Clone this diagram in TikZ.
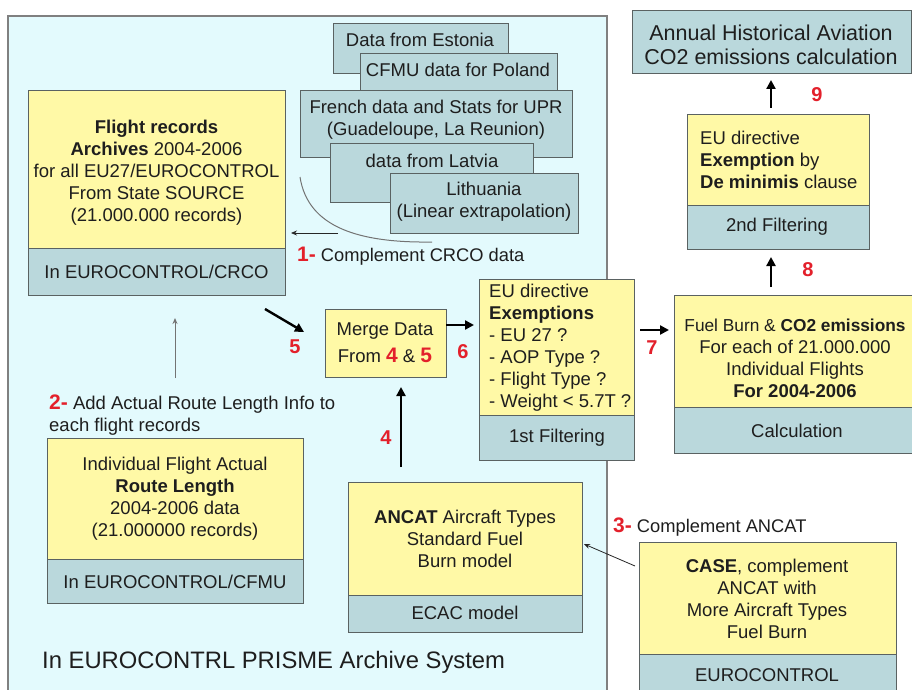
\documentclass[tikz,border=0pt]{standalone}
\usepackage{fontspec}
\setmainfont{Liberation Sans}
\usetikzlibrary{arrows.meta,calc}
\definecolor{panelc}{HTML}{E3FAFD}
\definecolor{yelc}{HTML}{FFF9A6}
\definecolor{bluc}{HTML}{BAD8DC}
\definecolor{bordc}{HTML}{5A6262}
\definecolor{redc}{HTML}{E3202B}
\definecolor{txtc}{HTML}{1E1E1E}
\newcommand{\rn}[1]{{\color{redc}\fontsize{21}{22}\selectfont\bfseries #1}}
\begin{document}
\begin{tikzpicture}[x=1pt,y=-1pt,
  box/.style={draw=bordc, line width=1pt, inner sep=0pt, anchor=north west},
  sz/.style 2 args={minimum width=#1pt, minimum height=#2pt},
  ybox/.style={box, fill=yelc},
  bbox/.style={box, fill=bluc},
  txt/.style={font=\fontsize{18.5}{22}\selectfont, align=center, text=txtc, inner sep=0pt},
  num/.style={font=\fontsize{20}{22}\selectfont\bfseries, text=redc, inner sep=0pt},
  bigarrow/.style={-{Triangle[length=9pt,width=9pt]}, line width=2.4pt, draw=black},
  thinarrow/.style={-{Stealth[length=6pt,width=5pt]}, line width=0.8pt, draw=black!85},
  grayarrow/.style={-{Stealth[length=6pt,width=5pt]}, line width=1pt, draw=black!55}
]
\clip (0,0) rectangle (912,690);
\fill[white] (0,0) rectangle (912,690);
% panel
\draw[fill=panelc, draw=black!50, line width=1.5pt] (8,16) rectangle (607,710);

% Flight records
\node[ybox, sz={257}{158}] (fr) at (28,90) {};
\node[bbox, sz={257}{47}] (frb) at (28,248) {};
\node[txt] (frt) at (156.5,173) {\textbf{Flight records}\\\textbf{Archives} 2004-2006\\for all EU27/EUROCONTROL\\From State SOURCE\\(21.000.000 records)};
\node[txt] (frbt) at (156.5,272) {In EUROCONTROL/CRCO};

% stacked data boxes
\node[bbox, sz={175}{50}] (est) at (333,23) {};
\node[txt] (estt) at (420,40) {Data from Estonia};
\node[bbox, sz={197}{37}] (cfmu) at (360,53) {};
\node[txt] (cfmut) at (458,70) {CFMU data for Poland};
\node[bbox, sz={272}{67}] (fre) at (300,90) {};
\node[txt] (fret) at (436,119.5) {French data and Stats for UPR\\(Guadeloupe, La Reunion)};
\node[bbox, sz={203}{59}] (lat) at (330,143) {};
\node[txt] (latt) at (432,161) {data from Latvia};
\node[bbox, sz={188}{60}] (lit) at (390,173) {};
\node[txt] (litt) at (484,202) {Lithuania\\(Linear extrapolation)};

% curve and arrow 1
\draw[draw=black!55, line width=1pt] (300,177) .. controls (308,228) and (360,243) .. (432,242);
\coordinate (a1s) at (338,233);
\draw[thinarrow] (a1s) -- (a1s -| fr.east) [shorten >=5pt];
\node[txt, anchor=west, font=\fontsize{18.3}{20}\selectfont] (l1) at (297,256) {\rn{1-} Complement CRCO data};

% title box
\node[bbox, sz={279}{63}] (ann) at (632,10) {};
\node[txt, font=\fontsize{21.5}{24}\selectfont] (annt) at (771,45) {Annual Historical Aviation\\CO2 emissions calculation};

% EU directive 2
\node[ybox, sz={182}{91}] (ec2) at (687,114) {};
\node[bbox, sz={182}{44}] (ec2b) at (687,205) {};
\node[txt, align=left, anchor=west] (ec2t) at (700,160) {EU directive\\\textbf{Exemption} by\\\textbf{De minimis} clause};
\node[txt] (ec2bt) at (777,227) {2nd Filtering};

% Fuel burn
\node[ybox, sz={246}{112}] (fb) at (674,295) {};
\node[bbox, sz={246}{46}] (fbb) at (674,407) {};
\node[txt] (fbt) at (795,358) {{\fontsize{17.3}{22}\selectfont Fuel Burn \& \textbf{CO2 emissions}}\\For each of 21.000.000\\Individual Flights\\\textbf{For 2004-2006}};
\node[txt] (fbbt) at (797,431) {Calculation};

% EU directive 1
\node[ybox, sz={155}{136}] (ef1) at (479,279) {};
\node[bbox, sz={155}{45}] (ef1b) at (479,415) {};
\node[txt, align=left, anchor=west] (ef1t) at (489,348) {EU directive\\\textbf{Exemptions}\\- EU 27 ?\\- AOP Type ?\\- Flight Type ?\\- Weight < 5.7T ?};
\node[txt] (ef1bt) at (557,438) {1st Filtering};

% Merge
\node[ybox, sz={121}{68}] (merge) at (325,309) {};
\node[txt, font=\fontsize{18.5}{27}\selectfont] (merget) at (385,343) {Merge Data\\From \rn{4} \& \rn{5}};

% Individual flight
\node[ybox, sz={256}{121}] (ind) at (47,438) {};
\node[bbox, sz={256}{44}] (indb) at (47,559) {};
\node[txt] (indt) at (175,499) {Individual Flight Actual\\\textbf{Route Length}\\2004-2006 data\\(21.000000 records)};
\node[txt] (indbt) at (175,582) {In EUROCONTROL/CFMU};

% ANCAT
\node[ybox, sz={234}{113}] (anc) at (348,482) {};
\node[bbox, sz={234}{37}] (ancb) at (348,595) {};
\node[txt] (anct) at (465,539) {\textbf{ANCAT} Aircraft Types\\Standard Fuel\\Burn model};
\node[txt] (ancbt) at (465,613) {ECAC model};

% CASE
\node[ybox, sz={257}{112}] (case) at (639,542) {};
\node[bbox, sz={257}{50}] (caseb) at (639,654) {};
\node[txt] (caset) at (767,599) {\textbf{CASE}, complement\\ANCAT with\\More Aircraft Types\\Fuel Burn};
\node[txt] (casebt) at (767,675) {EUROCONTROL};

% labels
\node[txt, align=left, anchor=west] (l2) at (49,415) {\rn{2-} Add Actual Route Length Info to\\each flight records};
\node[txt, anchor=west, font=\fontsize{18.3}{20}\selectfont] (l3) at (613,527) {\rn{3-} Complement ANCAT};
\node[txt, anchor=west, font=\fontsize{23.8}{26}\selectfont] (prisme) at (42,662) {In EUROCONTRL PRISME Archive System};

% arrows
\coordinate (a2s) at (175,378);
\coordinate (a2e) at (175,318);
\draw[grayarrow] (a2s) -- (a2e);
\coordinate (a3s) at (635,566);
\coordinate (a3e) at (584,544);
\draw[thinarrow] (a3s) -- (a3e);
\coordinate (a5s) at (265,309);
\coordinate (a5e) at (304,332);
\draw[bigarrow] (a5s) -- (a5e);
\coordinate (a6s) at (446,325);
\draw[bigarrow] (a6s) -- (a6s -| ef1.west) [shorten >=5pt];
\coordinate (a7s) at (640,330);
\draw[bigarrow] (a7s) -- (a7s -| fb.west) [shorten >=5pt];
\coordinate (a4s) at (401,467);
\draw[bigarrow] (a4s) -- (a4s |- merge.south) [shorten >=9pt];
\coordinate (a8s) at (771,287);
\draw[bigarrow] (a8s) -- (a8s |- ec2b.south) [shorten >=7pt];
\coordinate (a9s) at (771,108);
\draw[bigarrow] (a9s) -- (a9s |- ann.south) [shorten >=6pt];

% numbers
\node[num] (n5) at (295,347) {5};
\node[num] (n6) at (463,352) {6};
\node[num] (n7) at (652,348) {7};
\node[num] (n4) at (386,438) {4};
\node[num] (n8) at (808,270) {8};
\node[num] (n9) at (817,95) {9};
\end{tikzpicture}
\end{document}
